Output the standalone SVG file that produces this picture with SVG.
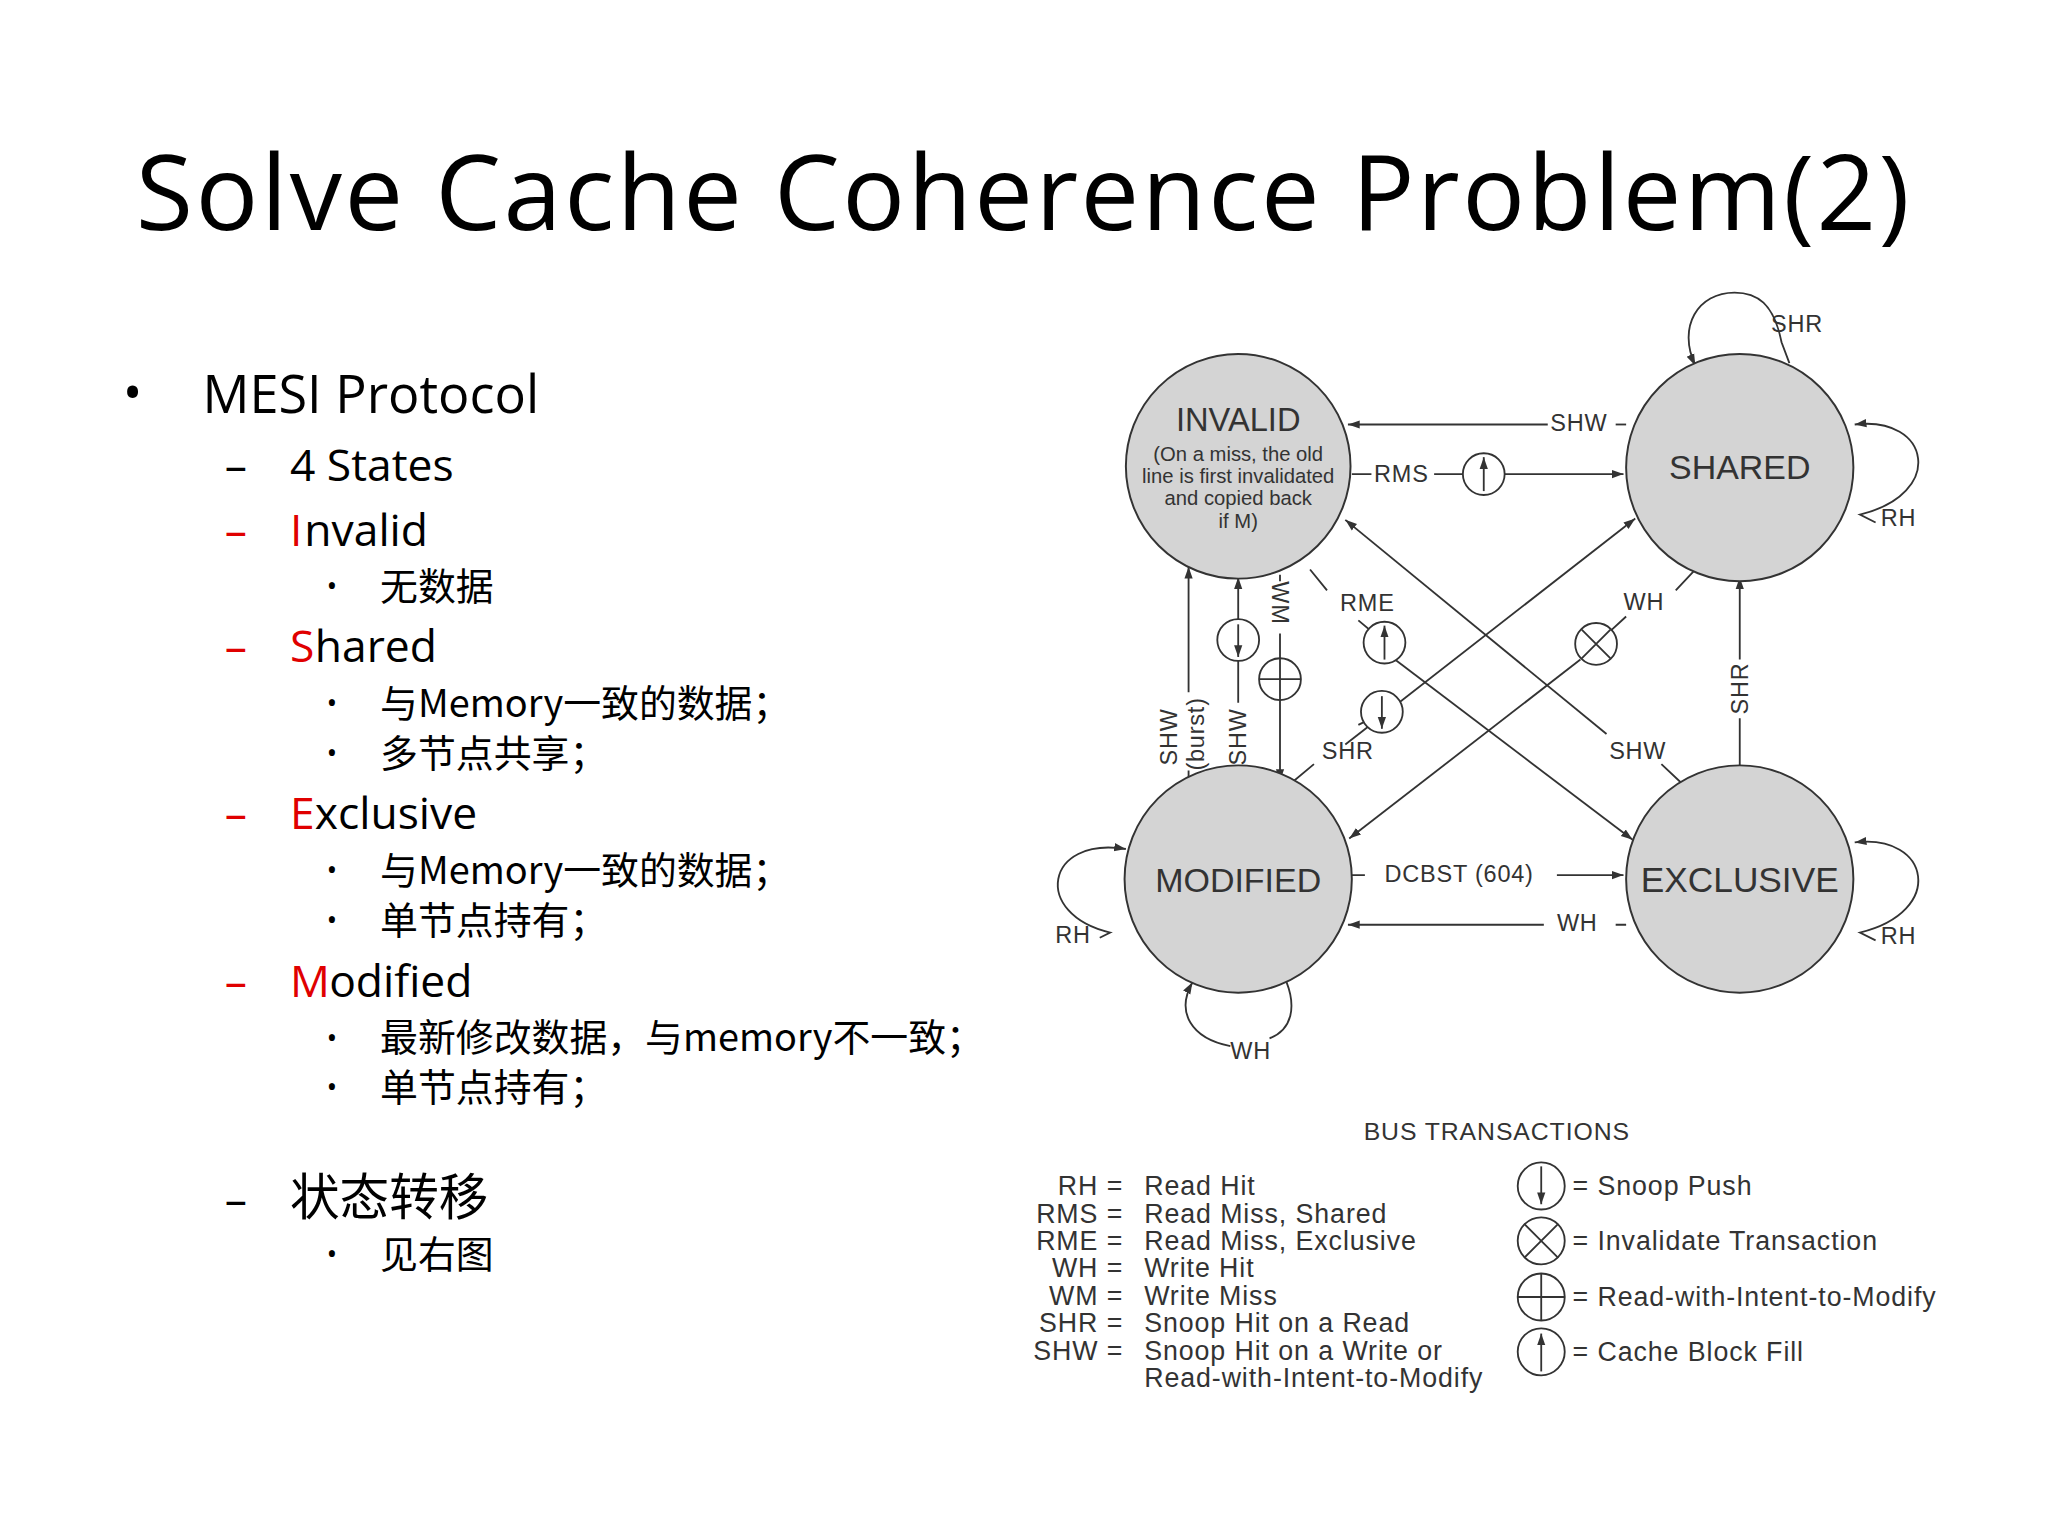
<svg xmlns="http://www.w3.org/2000/svg" width="2048" height="1536" viewBox="0 0 2048 1536">
<style>
.t{font-family:"Open Sans","Liberation Sans","Noto Sans CJK SC",sans-serif;fill:#000}
.cj{font-family:"Noto Sans CJK SC",sans-serif;fill:#000}
.d{font-family:"Liberation Sans",Arial,sans-serif;fill:#333}
.st{fill:#d4d4d4;stroke:#333;stroke-width:1.5}
.ln{fill:none;stroke:#333;stroke-width:1.4}
.sc{fill:#fff;stroke:#333;stroke-width:1.4}
.r{fill:#e00000}
</style>
<defs>
<marker id="a" viewBox="0 0 10 10" refX="10" refY="5" markerWidth="9" markerHeight="9" orient="auto" markerUnits="userSpaceOnUse"><path d="M0,1.5 L10,5 L0,8.5 z" fill="#333"/></marker>
</defs>
<rect width="2048" height="1536" fill="#fff"/>
<g transform="scale(1.306122)">
<text class="t" x="104" y="176" font-size="80" textLength="1358">Solve Cache Coherence Problem(2)</text>
<g id="bullets">
<text class="t" x="94" y="315" font-size="40">•</text>
<text class="t" x="155" y="316" font-size="40">MESI Protocol</text>
<text class="t" x="172" y="368" font-size="34">–</text><text class="t" x="222" y="368" font-size="34">4 States</text>
<text class="t r" x="172" y="418" font-size="34">–</text><text class="t r" x="222" y="418" font-size="34">I</text><text class="t" x="233" y="418" font-size="34">nvalid</text>
<text class="t" x="250" y="456" font-size="22">•</text><text class="cj" x="291" y="459" font-size="29">无数据</text>
<text class="t r" x="172" y="507" font-size="34">–</text><text class="t r" x="222" y="507" font-size="34">S</text><text class="t" x="241" y="507" font-size="34">hared</text>
<text class="t" x="250" y="546" font-size="22">•</text><text class="cj" x="291" y="549" font-size="29">与Memory一致的数据；</text>
<text class="t" x="250" y="584" font-size="22">•</text><text class="cj" x="291" y="587" font-size="29">多节点共享；</text>
<text class="t r" x="172" y="635" font-size="34">–</text><text class="t r" x="222" y="635" font-size="34">E</text><text class="t" x="241" y="635" font-size="34">xclusive</text>
<text class="t" x="250" y="674" font-size="22">•</text><text class="cj" x="291" y="677" font-size="29">与Memory一致的数据；</text>
<text class="t" x="250" y="712" font-size="22">•</text><text class="cj" x="291" y="715" font-size="29">单节点持有；</text>
<text class="t r" x="172" y="763" font-size="34">–</text><text class="t r" x="222" y="763" font-size="34">M</text><text class="t" x="252" y="763" font-size="34">odified</text>
<text class="t" x="250" y="802" font-size="22">•</text><text class="cj" x="291" y="805" font-size="29">最新修改数据，与memory不一致；</text>
<text class="t" x="250" y="840" font-size="22">•</text><text class="cj" x="291" y="843" font-size="29">单节点持有；</text>
<text class="t" x="172" y="930" font-size="34">–</text><text class="cj" x="222" y="930" font-size="38">状态转移</text>
<text class="t" x="250" y="968" font-size="22">•</text><text class="cj" x="291" y="971" font-size="29">见右图</text>
</g>
<g id="connectors">
<path class="ln" d="M1370,278 L1364,262 C1358,232 1345,224 1328,224 C1300,224 1284,250 1298,280" marker-end="url(#a)"/>
<path class="ln" d="M1185,325 H1032" marker-end="url(#a)"/><path class="ln" d="M1237,325 H1245"/>
<path class="ln" d="M1035,363 H1050 M1098,363 H1120 M1152,363 H1243" marker-end="url(#a)"/>
<path class="ln" d="M1436,400 L1424,394 C1490,378 1478,318 1420,325" marker-end="url(#a)"/>
<path class="ln" d="M1436,720 L1424,714 C1490,698 1478,638 1420,645" marker-end="url(#a)"/>
<path class="ln" d="M842,718 L850,714 C790,700 800,640 862,650" marker-end="url(#a)"/>
<path class="ln" d="M942,801 C912,795 900,775 913,752" marker-end="url(#a)"/>
<path class="ln" d="M972,795 C990,788 992,770 985,752"/>
<path class="ln" d="M910,598 V590 M910,530 V434" marker-end="url(#a)"/>
<path class="ln" d="M948,598 V590 M948,538 V442" marker-end="url(#a)"/>
<path class="ln" d="M980,440 V445 M980,485 V598" marker-end="url(#a)"/>
<path class="ln" d="M1035,670 H1045 M1192,670 H1243" marker-end="url(#a)"/>
<path class="ln" d="M1245,708 H1237 M1182,708 H1032" marker-end="url(#a)"/>
<path class="ln" d="M1332,592 V550 M1332,505 V442" marker-end="url(#a)"/>
<path class="ln" d="M1030,570 L1252,397" marker-end="url(#a)"/>
<path class="ln" d="M1210,505 L1033,642" marker-end="url(#a)"/>
<path class="ln" d="M1230,562 L1030,398" marker-end="url(#a)"/>
<path class="ln" d="M1068,505 L1250,643" marker-end="url(#a)"/>
<path class="ln" d="M1003,436 L1016,452 M1040,475 L1052,485 M988,600 L1006,585 M1040,555 L1050,550 M1297,437 L1283,452 M1245,472 L1232,484 M1290,602 L1272,585"/>
<circle class="sc" cx="1136" cy="363" r="16"/><path class="ln" d="M1136,376 V350" marker-end="url(#a)"/>
<circle class="sc" cx="948" cy="490" r="16"/><path class="ln" d="M948,478 V503" marker-end="url(#a)"/>
<circle class="sc" cx="980" cy="520" r="16"/><path class="ln" d="M964,520 H996 M980,504 V536"/>
<circle class="sc" cx="1060" cy="492" r="16"/><path class="ln" d="M1060,505 V479" marker-end="url(#a)"/>
<circle class="sc" cx="1058" cy="545" r="16"/><path class="ln" d="M1058,533 V558" marker-end="url(#a)"/>
<circle class="sc" cx="1222" cy="493" r="16"/><path class="ln" d="M1211,482 L1233,504 M1233,482 L1211,504"/>
</g>
<g id="labels" class="d" font-size="18" letter-spacing="0.6">
<text x="1356" y="254">SHR</text>
<text x="1187" y="330">SHW</text>
<text x="1052" y="369">RMS</text>
<text x="1440" y="403">RH</text>
<text x="1440" y="723">RH</text>
<text x="808" y="722">RH</text>
<text x="942" y="811">WH</text>
<text x="1026" y="468">RME</text>
<text x="1243" y="467">WH</text>
<text x="1012" y="581">SHR</text>
<text x="1232" y="581">SHW</text>
<text x="1060" y="675">DCBST (604)</text>
<text x="1192" y="713">WH</text>
<text transform="translate(1338,547) rotate(-90)">SHR</text>
<text transform="translate(901,586) rotate(-90)">SHW</text>
<text transform="translate(922,590) rotate(-90)">(burst)</text>
<text transform="translate(954,586) rotate(-90)">SHW</text>
<text transform="translate(974,445) rotate(90)">WM</text>
</g>
<g id="invalid"><circle class="st" cx="948" cy="357" r="86"/>
<text class="d" x="948" y="330" font-size="25" text-anchor="middle">INVALID</text>
<text class="d" x="948" y="353" font-size="15.5" text-anchor="middle">(On a miss, the old</text>
<text class="d" x="948" y="370" font-size="15.5" text-anchor="middle">line is first invalidated</text>
<text class="d" x="948" y="387" font-size="15.5" text-anchor="middle">and copied back</text>
<text class="d" x="948" y="404" font-size="15.5" text-anchor="middle">if M)</text></g>
<g id="shared"><circle class="st" cx="1332" cy="358" r="87"/><text class="d" x="1332" y="367" font-size="26" text-anchor="middle">SHARED</text></g>
<g id="modified"><circle class="st" cx="948" cy="673" r="87"/><text class="d" x="948" y="683" font-size="26" text-anchor="middle">MODIFIED</text></g>
<g id="exclusive"><circle class="st" cx="1332" cy="673" r="87"/><text class="d" x="1332" y="683" font-size="27" text-anchor="middle">EXCLUSIVE</text></g>
<g id="legend" class="d" font-size="20.5" letter-spacing="0.7">
<text x="1146" y="873" text-anchor="middle" font-size="19">BUS TRANSACTIONS</text>
<g text-anchor="end"><text x="860" y="915">RH =</text><text x="860" y="936">RMS =</text><text x="860" y="957">RME =</text><text x="860" y="978">WH =</text><text x="860" y="999">WM =</text><text x="860" y="1020">SHR =</text><text x="860" y="1041">SHW =</text></g>
<text x="876" y="915">Read Hit</text><text x="876" y="936">Read Miss, Shared</text><text x="876" y="957">Read Miss, Exclusive</text><text x="876" y="978">Write Hit</text><text x="876" y="999">Write Miss</text><text x="876" y="1020">Snoop Hit on a Read</text><text x="876" y="1041">Snoop Hit on a Write or</text><text x="876" y="1062">Read-with-Intent-to-Modify</text>
<circle class="sc" cx="1180" cy="908" r="18"/><path class="ln" d="M1180,893 V922" marker-end="url(#a)"/>
<circle class="sc" cx="1180" cy="950" r="18"/><path class="ln" d="M1167,937 L1193,963 M1193,937 L1167,963"/>
<circle class="sc" cx="1180" cy="993" r="18"/><path class="ln" d="M1162,993 H1198 M1180,975 V1011"/>
<circle class="sc" cx="1180" cy="1035" r="18"/><path class="ln" d="M1180,1050 V1021" marker-end="url(#a)"/>
<text x="1204" y="915">= Snoop Push</text><text x="1204" y="957">= Invalidate Transaction</text><text x="1204" y="1000">= Read-with-Intent-to-Modify</text><text x="1204" y="1042">= Cache Block Fill</text>
</g>
</g>
</svg>
